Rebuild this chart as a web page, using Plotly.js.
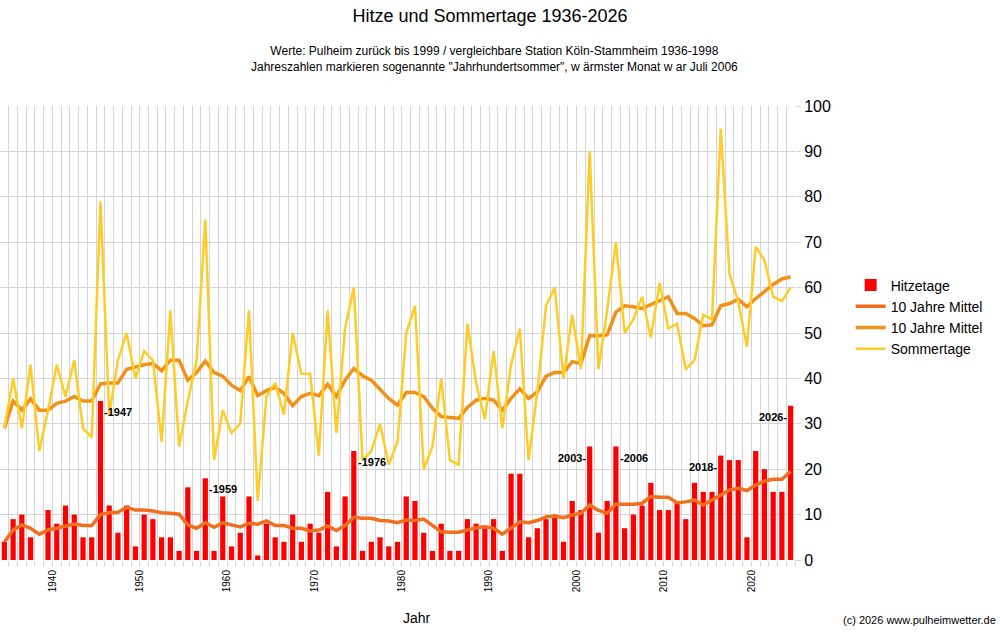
<!DOCTYPE html>
<html>
<head>
<meta charset="utf-8">
<script src="https://cdn.plot.ly/plotly-3.0.1.min.js"></script>
<style>body{margin:0;background:#fff}#chart{width:1000px;height:632px}</style>
</head>
<body>
<div id="chart"></div>
<script>
let years = [];
for (let y = 1936; y <= 2026; y++) years.push(y);

let hitzetage = [4,9,10,5,0,11,8,12,10,5,5,35,12,6,12,3,10,9,5,5,2,16,2,18,2,14,3,6,14,1,
  8,5,4,10,4,8,6,15,3,14,24,2,4,5,3,4,14,13,6,2,8,2,2,9,8,7,9,2,19,19,
  5,7,9,10,4,13,11,25,6,13,25,7,10,12,17,11,11,13,9,17,15,15,23,22,22,5,24,20,15,15,34];

let sommertage = [29,40,29,43,24,33,43,36,44,29,27,79,32,44,50,40,46,44,26,55,25,35,44,75,22,33,28,30,55,13,
  36,39,32,50,41,41,23,55,28,51,60,22,24,30,21,26,50,56,20,25,40,22,21,52,39,31,46,29,43,51,
  22,37,56,60,40,54,42,90,42,55,70,50,53,58,49,61,51,52,42,44,54,53,95,63,57,47,69,66,58,57,60];

let mittelHitze = [4,6.6,7.7,7,5.7,6.6,7,7.5,7.9,7.6,7.6,10,10.4,10.5,11.6,11,11,10.8,10.4,10.3,10.1,7.7,7,8.2,7.2,8.2,7.7,7.3,8.1,7.9,
  8.6,7.6,7.6,7,7,6.4,6.6,7.5,6.5,7.6,9.4,9.2,9.2,8.7,8.6,8.2,8.8,8.7,9,7.7,6.2,6.1,6.1,6.6,7.1,7.3,7,5.7,7,8.4,
  8.2,8.7,9.5,9.7,9.3,9.9,10.3,12.1,10.9,10.3,12.3,12.3,12.3,12.5,14,13.8,13.8,12.6,12.8,13.2,12.1,13.2,14.3,15.4,15.8,15.3,16.5,17.4,17.8,17.8,19.5];

let mittelSommer = [29,35,33,35.5,33,33,34.5,35,36,35,35,38.8,39,39,42,42.5,43,43.3,41.7,44,44,39.6,41.3,43.8,41.3,40.5,38.5,37.3,40.4,36.2,
  37.3,38,36.7,34,36,36.7,36.2,38.7,36,39.6,42.2,40.6,39.6,37.6,35.6,34.1,36.9,36.9,36,33.4,31.6,31.4,31.2,33.6,35.2,35.6,35.2,33,35.6,37.7,
  35.6,37,40.5,41.3,41.3,43.7,43.3,49.4,49.4,49.6,54.6,56,55.8,55.4,56.3,57,58,54.3,54.3,53.2,51.6,51.8,56,56.5,57.4,55.8,57.6,59.1,60.7,61.9,62.4];

let markedYears = [1947, 1959, 1976, 2003, 2006, 2018, 2026];
let markedSide = ['right', 'right', 'right', 'left', 'right', 'left', 'left'];

// grid lines between the bars, decade labels sit one category later as in the original
let gridVals = [];
let gridText = [];
for (let i = 0; i < years.length; i++) {
  gridVals.push(years[i] + 0.5);
  gridText.push((years[i] - 1) % 10 === 0 ? String(years[i] - 1) : '');
}

let traces = [
  {type: 'bar', x: years, y: hitzetage, name: 'Hitzetage', marker: {color: '#ff0000'}},
  {type: 'scatter', mode: 'lines', x: years, y: mittelHitze, name: '10 Jahre Mittel',
    line: {color: '#f06e1e', width: 3.5}},
  {type: 'scatter', mode: 'lines', x: years, y: mittelSommer, name: '10 Jahre Mittel',
    line: {color: '#f0921a', width: 3.5}},
  {type: 'scatter', mode: 'lines', x: years, y: sommertage, name: 'Sommertage',
    line: {color: '#ffcc26', width: 2.5}}
];

let annotations = markedYears.map(function(yr, k) {
  let v = hitzetage[years.indexOf(yr)];
  let left = markedSide[k] === 'left';
  return {
    x: yr, y: v, xref: 'x', yref: 'y', showarrow: false,
    text: '<b>' + (left ? yr + '-' : '-' + yr) + '</b>',
    xanchor: left ? 'right' : 'left', yanchor: 'top',
    xshift: left ? -2 : 2, yshift: -3,
    font: {family: 'Liberation Sans, Arial', size: 11, color: '#000'}
  };
});

annotations.push({
  xref: 'paper', yref: 'paper', x: 0.525, y: -0.105, showarrow: false,
  text: 'Jahr', yanchor: 'top',
  font: {family: 'Liberation Sans, Arial', size: 14, color: '#000'}
});
annotations.push({
  xref: 'paper', yref: 'paper', x: 1.255, y: -0.115, showarrow: false,
  text: '(c) 2026 www.pulheimwetter.de', xanchor: 'right', yanchor: 'top',
  font: {family: 'Liberation Sans, Arial', size: 11, color: '#000'}
});
annotations.push({
  xref: 'paper', yref: 'paper', x: 0.622, y: 1.14, showarrow: false,
  text: 'Werte: Pulheim zurück bis 1999 / vergleichbare Station Köln-Stammheim 1936-1998<br>Jahreszahlen markieren sogenannte "Jahrhundertsommer", w ärmster Monat w ar Juli 2006',
  xanchor: 'center', yanchor: 'top',
  font: {family: 'Liberation Sans, Arial', size: 12, color: '#000'}
});

let layout = {
  width: 1000, height: 632,
  margin: {l: 0, r: 205, t: 106, b: 72},
  paper_bgcolor: '#fff', plot_bgcolor: '#fff',
  title: {text: 'Hitze und Sommertage 1936-2026', x: 0.49, xref: 'container', xanchor: 'center',
    y: 0.985, yanchor: 'top',
    font: {family: 'Liberation Sans, Arial', size: 18, color: '#000'}},
  font: {family: 'Liberation Sans, Arial', color: '#000'},
  bargap: 0.4,
  showlegend: true,
  legend: {x: 1.07, y: 0.64, xanchor: 'left', yanchor: 'top', font: {size: 14}, tracegroupgap: 0},
  xaxis: {
    range: [1935.5, 2026.5], tickmode: 'array', tickvals: gridVals, ticktext: gridText,
    tickangle: -90, tickfont: {size: 10}, showgrid: true, gridcolor: '#d4d4d4',
    ticks: 'outside', ticklen: 5, tickcolor: '#d4d4d4', zeroline: false, showline: false
  },
  yaxis: {
    range: [0, 100], dtick: 10, side: 'right', showgrid: true, gridcolor: '#d4d4d4',
    tickfont: {size: 16}, ticks: 'outside', ticklen: 5, tickcolor: '#d4d4d4', zeroline: false
  },
  annotations: annotations
};

Plotly.newPlot('chart', traces, layout, {displayModeBar: false, staticPlot: true});
</script>
</body>
</html>
